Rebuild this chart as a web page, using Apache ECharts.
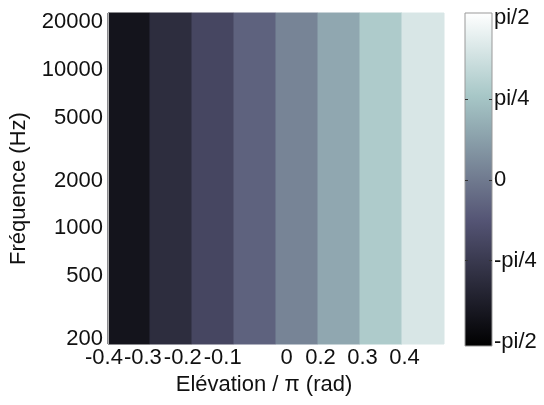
<!DOCTYPE html>
<html><head><meta charset="utf-8">
<script src="https://cdn.jsdelivr.net/npm/echarts@6/dist/echarts.min.js"></script>
<style>html,body{margin:0;padding:0;background:#fff}#c{width:544px;height:405px}</style>
</head><body><div id="c"></div>
<script>
// ---- data ----
const bandLabels   = ['-0.4','-0.3','-0.2','-0.1','0','0.2','0.3','0.4'];
const bandValues   = [-1.33, -0.97, -0.60, -0.26, 0.10, 0.47, 0.87, 1.26]; // colour value (rad)
const xTickPos     = [0, 0.83, 1.78, 2.73, 4.25, 5.06, 6.06, 7.06];       // label positions (band-index units)
const xTickLabels  = ['-0.4','-0.3','-0.2','-0.1','0','0.2','0.3','0.4'];
const freqRange    = [185, 22900];
const yTickValues  = [200, 500, 1000, 2000, 5000, 10000, 20000];
const colorRange   = [-1.615, 1.615];
const cbTickValues = [-Math.PI/2, -Math.PI/4, 0, Math.PI/4, Math.PI/2];
const cbTickLabels = ['-pi/2','-pi/4','0','pi/4','pi/2'];
const boneColors   = ['#000000','#1c1c27','#38384d','#545474','#707a8f','#8ba1ab','#a7c7c7','#d3e3e3','#ffffff'];

const FONT = 'Liberation Sans';
const FS = 22;
const TXT = '#111';

const bandData = bandValues.map((v, i) => [i, i + 1, freqRange[0], freqRange[1], v]);

const chart = echarts.init(document.getElementById('c'), null, {renderer: 'canvas'});
chart.setOption({
  animation: false,
  backgroundColor: '#fff',
  grid: [
    {left: 108, top: 13, width: 336, height: 331},
    {left: 465, top: 13, width: 27, height: 333}
  ],
  xAxis: [
    {
      type: 'value', gridIndex: 0, min: 0, max: bandLabels.length,
      axisLine: {show: false}, axisTick: {show: false}, splitLine: {show: false},
      axisLabel: {
        customValues: xTickPos, margin: 3,
        color: TXT, fontFamily: FONT, fontSize: FS,
        formatter: function (v) {
          const i = xTickPos.findIndex(p => Math.abs(p - v) < 1e-6);
          const s = i >= 0 ? xTickLabels[i] : '';
          return i === 0 ? '{l|' + s + '}' : s;
        },
        rich: {l: {padding: [0, 8, 0, 0], color: TXT, fontFamily: FONT, fontSize: FS}}
      },
      name: 'Elévation / π (rad)', nameLocation: 'middle', nameGap: 28,
      nameTextStyle: {color: TXT, fontFamily: FONT, fontSize: FS, padding: [0, 24, 0, 0]}
    },
    {
      type: 'value', gridIndex: 1, min: 0, max: 1, show: false
    }
  ],
  yAxis: [
    {
      type: 'log', logBase: 10, gridIndex: 0, min: freqRange[0], max: freqRange[1], z: 5,
      axisLine: {show: true, lineStyle: {color: '#b0b0b0', width: 1}},
      axisTick: {show: false}, splitLine: {show: false},
      axisLabel: {
        customValues: yTickValues, margin: 5, color: TXT, fontFamily: FONT, fontSize: FS,
        formatter: function (v) { return String(Math.round(v)); }
      },
      name: 'Fréquence (Hz)', nameLocation: 'middle', nameGap: 78,
      nameTextStyle: {color: TXT, fontFamily: FONT, fontSize: FS, padding: [0, 20, 0, 0]}
    },
    {
      type: 'value', gridIndex: 1, position: 'right', min: colorRange[0], max: colorRange[1], z: 5,
      axisLine: {show: false}, splitLine: {show: false}, axisTick: {show: false},
      axisLabel: {
        customValues: cbTickValues, margin: 2, color: TXT, fontFamily: FONT, fontSize: FS,
        formatter: function (v) {
          const i = cbTickValues.findIndex(t => Math.abs(t - v) < 1e-6);
          return i >= 0 ? cbTickLabels[i] : '';
        }
      }
    }
  ],
  visualMap: [{
    type: 'continuous', show: false, seriesIndex: 0, dimension: 4,
    min: colorRange[0], max: colorRange[1], inRange: {color: boneColors}
  }],
  series: [
    {
      type: 'custom', xAxisIndex: 0, yAxisIndex: 0,
      encode: {x: [0, 1], y: [2, 3]},
      data: bandData,
      renderItem: function (params, api) {
        const p0 = api.coord([api.value(0), api.value(3)]);
        const p1 = api.coord([api.value(1), api.value(2)]);
        const c = api.visual('color');
        return {
          type: 'rect',
          shape: {x: p0[0], y: p0[1], width: p1[0] - p0[0], height: p1[1] - p0[1]},
          style: {fill: c, stroke: c, lineWidth: 1}
        };
      }
    },
    {
      type: 'custom', xAxisIndex: 1, yAxisIndex: 1, z: 1,
      encode: {x: 0, y: [1, 2]},
      data: [[0, colorRange[0], colorRange[1]]],
      renderItem: function (params, api) {
        const p0 = api.coord([0, api.value(2)]);
        const p1 = api.coord([1, api.value(1)]);
        const stops = boneColors.map((c, i) => ({offset: i / (boneColors.length - 1), color: c}));
        const children = [{
          type: 'rect',
          shape: {x: p0[0], y: p0[1], width: p1[0] - p0[0], height: p1[1] - p0[1]},
          style: {fill: new echarts.graphic.LinearGradient(0, 1, 0, 0, stops), stroke: '#999', lineWidth: 1}
        }];
        cbTickValues.slice(1, -1).forEach(function (t) {
          const y = Math.round(api.coord([0, t])[1]) + 0.5;
          children.push({type: 'line', shape: {x1: p0[0], y1: y, x2: p0[0] + 3, y2: y}, style: {stroke: '#333', lineWidth: 1}});
          children.push({type: 'line', shape: {x1: p1[0] - 3, y1: y, x2: p1[0], y2: y}, style: {stroke: '#333', lineWidth: 1}});
        });
        return {type: 'group', children: children};
      }
    }
  ]
});
</script></body></html>
